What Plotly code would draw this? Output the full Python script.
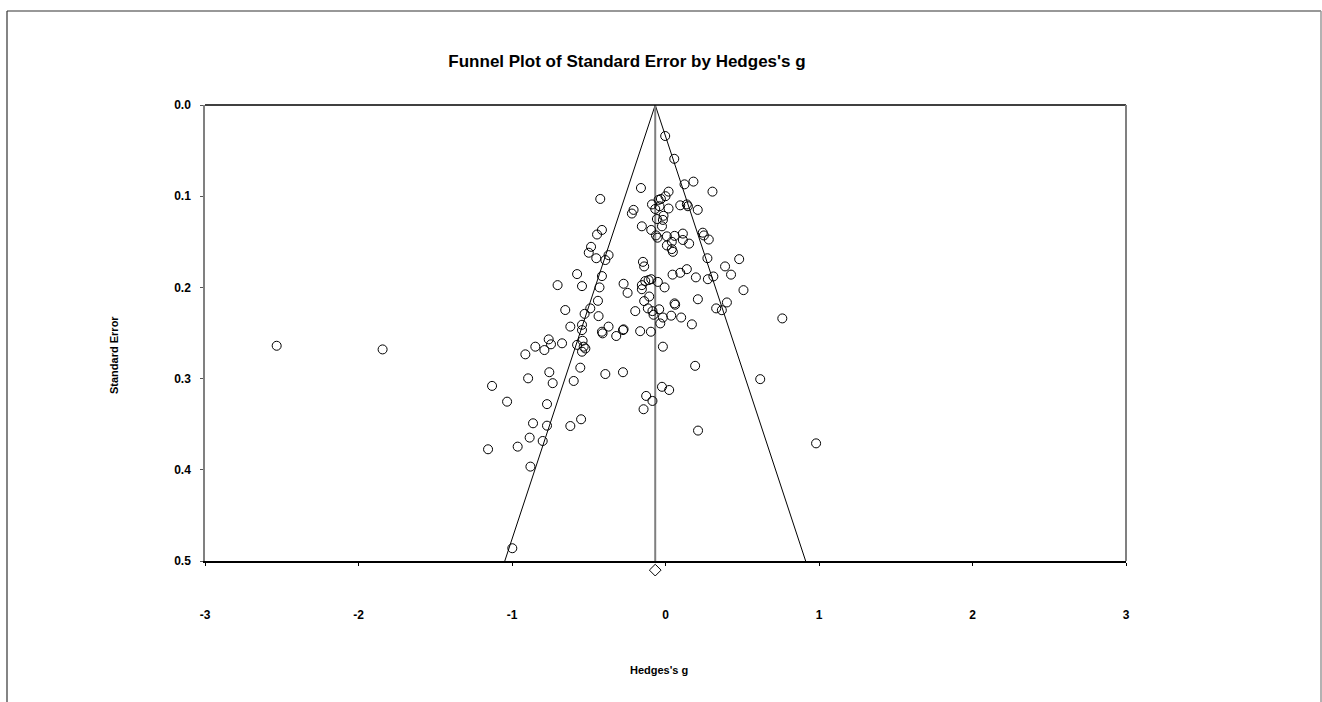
import plotly.graph_objects as go

# Study-level data
hedges_g = [
    -0.002, 0.057, 0.124, 0.182, 0.306, -0.160, -0.425, -0.208, -0.219, -0.088,
    -0.067, -0.045, -0.056, -0.154, -0.093, -0.414, -0.446, -0.062, -0.052, 0.020,
    0.000, -0.030, -0.039, 0.020, 0.096, 0.139, 0.146, 0.210, -0.013, -0.017,
    -0.023, 0.009, 0.059, 0.113, 0.243, 0.250, 0.282, 0.113, 0.154, 0.009,
    0.041, 0.041, 0.048, 0.273, 0.480, 0.388, 0.427, 0.508, 0.312, 0.276,
    0.198, 0.139, 0.096, 0.046, -0.006, -0.050, -0.093, -0.110, -0.132, -0.154,
    -0.154, -0.147, -0.139, -0.273, -0.247, -0.139, -0.106, 0.059, 0.063, 0.211,
    -0.115, -0.085, -0.078, -0.041, -0.017, -0.034, 0.037, 0.102, 0.172, -0.197,
    0.330, 0.367, 0.400, 0.761, -0.273, -0.165, -0.095, -0.017, -0.485, -0.500,
    -0.451, -0.371, -0.392, -0.576, -0.703, -0.544, -0.414, -0.430, -0.440, -0.490,
    -0.527, -0.436, -0.653, -0.620, -0.544, -0.544, -0.414, -0.410, -0.371, -0.321,
    -0.277, -0.761, -0.746, -0.848, -0.674, -0.576, -0.533, -0.913, -0.789, -0.540,
    -0.544, -0.522, -0.757, -0.895, -0.735, -0.555, -0.598, -0.392, -0.277, -1.130,
    -1.032, -0.772, -0.023, 0.024, -0.126, -0.085, -0.143, -0.863, -0.772, -0.620,
    -0.550, -0.885, -0.963, -0.800, -1.156, -0.880, -2.533, -1.843, -0.998, 0.212,
    0.981, 0.617, 0.193,
]
standard_error = [
    0.034, 0.059, 0.087, 0.084, 0.095, 0.091, 0.103, 0.115, 0.119, 0.109,
    0.114, 0.104, 0.125, 0.133, 0.137, 0.137, 0.142, 0.143, 0.1455, 0.095,
    0.100, 0.103, 0.111, 0.1135, 0.110, 0.109, 0.111, 0.115, 0.1215, 0.126,
    0.133, 0.144, 0.1435, 0.141, 0.140, 0.143, 0.1475, 0.148, 0.152, 0.154,
    0.150, 0.158, 0.161, 0.168, 0.169, 0.177, 0.186, 0.203, 0.188, 0.191,
    0.189, 0.180, 0.184, 0.186, 0.200, 0.194, 0.191, 0.192, 0.193, 0.1975,
    0.202, 0.172, 0.177, 0.196, 0.206, 0.215, 0.210, 0.2175, 0.219, 0.213,
    0.223, 0.226, 0.230, 0.224, 0.233, 0.2395, 0.231, 0.233, 0.2405, 0.226,
    0.223, 0.225, 0.2165, 0.234, 0.246, 0.248, 0.2486, 0.265, 0.1555, 0.162,
    0.168, 0.1646, 0.170, 0.1854, 0.1975, 0.1986, 0.1876, 0.200, 0.2147, 0.223,
    0.229, 0.2315, 0.2248, 0.243, 0.241, 0.2468, 0.2486, 0.2504, 0.243, 0.2533,
    0.2468, 0.257, 0.2624, 0.265, 0.2613, 0.263, 0.265, 0.2734, 0.2687, 0.2585,
    0.2705, 0.267, 0.293, 0.2997, 0.305, 0.288, 0.3026, 0.295, 0.293, 0.308,
    0.3253, 0.328, 0.309, 0.3125, 0.319, 0.3245, 0.3336, 0.349, 0.3516, 0.352,
    0.3446, 0.3647, 0.3746, 0.3684, 0.3775, 0.3965, 0.264, 0.268, 0.486, 0.357,
    0.371, 0.3006, 0.286,
]

summary_g = -0.067      # combined effect (vertical line / diamond)
summary_se_marker = 0.51
se_max = 0.5
z_crit = 1.96

x_ticks = [-3, -2, -1, 0, 1, 2, 3]
y_ticks = [0.0, 0.1, 0.2, 0.3, 0.4, 0.5]
y_tick_labels = ["0.0", "0.1", "0.2", "0.3", "0.4", "0.5"]

FONT = "Liberation Sans, Arial, sans-serif"

# page geometry (pixels)
W, H = 1322, 702
PL, PR, PT, PB = 205, 1126, 105, 600   # paper area of plotting region
AX_Y = 561                              # x-axis line position
pw, ph = PR - PL, PB - PT


def xp(px):
    return (px - PL) / pw


def yp(py):
    return (PB - py) / ph


main_dom = [yp(AX_Y), 1.0]
strip_dom = [0.0, yp(AX_Y)]
# secondary strip below the axis shares the same SE scale per pixel
se_per_px = se_max / (AX_Y - PT)
strip_range = [se_max + (PB - AX_Y) * se_per_px, se_max]

fig = go.Figure()

# Funnel limits
fig.add_trace(go.Scatter(
    x=[summary_g - z_crit * se_max, summary_g, summary_g + z_crit * se_max],
    y=[se_max, 0, se_max],
    mode="lines", line=dict(color="black", width=1),
    hoverinfo="skip", showlegend=False,
))
# Summary line
fig.add_trace(go.Scatter(
    x=[summary_g, summary_g], y=[0, se_max],
    mode="lines", line=dict(color="#7f7f7f", width=2),
    hoverinfo="skip", showlegend=False,
))
# Studies
fig.add_trace(go.Scatter(
    x=hedges_g, y=standard_error, mode="markers",
    marker=dict(symbol="circle-open", size=9, color="black", line=dict(width=1, color="black")),
    showlegend=False, cliponaxis=False,
))
# Summary diamond (in strip below the axis)
fig.add_trace(go.Scatter(
    x=[summary_g], y=[summary_se_marker], mode="markers",
    xaxis="x2", yaxis="y2",
    marker=dict(symbol="diamond-open", size=9, color="black", line=dict(width=1, color="black")),
    showlegend=False, cliponaxis=False,
))

fig.update_layout(
    width=W, height=H,
    margin=dict(l=PL, r=W - PR, t=PT, b=H - PB),
    paper_bgcolor="white", plot_bgcolor="white",
    font=dict(family=FONT, color="black"),
    title=dict(
        text="Funnel Plot of Standard Error by Hedges's g",
        x=627 / W, xanchor="center", y=1 - 61 / H, yanchor="middle",
        font=dict(family=FONT, size=17, weight="bold", color="black"),
    ),
    xaxis=dict(
        range=[-3, 3], tickvals=x_ticks, ticktext=[str(v) for v in x_ticks],
        anchor="y", showgrid=False, zeroline=False,
        showline=True, linecolor="black", linewidth=1.5,
        ticks="outside", ticklen=3, tickcolor="black", tickwidth=1,
        ticklabelstandoff=39,
        tickfont=dict(family=FONT, size=12, weight="bold", color="black"),
    ),
    yaxis=dict(
        domain=main_dom, anchor="x",
        range=[se_max, 0], tickvals=y_ticks, ticktext=y_tick_labels,
        showgrid=False, zeroline=False,
        showline=True, linecolor="#808080", linewidth=1.5,
        ticks="outside", ticklen=3, tickcolor="#555555", tickwidth=1,
        ticklabelstandoff=7,
        tickfont=dict(family=FONT, size=12, weight="bold", color="black"),
    ),
    xaxis2=dict(matches="x", anchor="y2", visible=False, showgrid=False, zeroline=False),
    yaxis2=dict(domain=strip_dom, anchor="x2", range=strip_range, visible=False,
                showgrid=False, zeroline=False),
    shapes=[
        # plot box top and right
        dict(type="line", xref="paper", yref="paper", x0=0, x1=1, y0=1, y1=1,
             line=dict(color="black", width=1.5)),
        dict(type="line", xref="paper", yref="paper", x0=1, x1=1, y0=yp(AX_Y), y1=1,
             line=dict(color="#808080", width=2)),
        # outer chart frame
        dict(type="line", xref="paper", yref="paper",
             x0=xp(7), x1=xp(1321), y0=yp(11), y1=yp(11),
             line=dict(color="#333333", width=1.2)),
        dict(type="line", xref="paper", yref="paper",
             x0=xp(7), x1=xp(7), y0=yp(11), y1=yp(720),
             line=dict(color="#333333", width=1.2)),
        dict(type="line", xref="paper", yref="paper",
             x0=xp(1321), x1=xp(1321), y0=yp(11), y1=yp(720),
             line=dict(color="#999999", width=1.5)),
    ],
    annotations=[
        dict(text="Standard Error", xref="paper", yref="paper",
             x=xp(114), y=yp(355), textangle=-90, showarrow=False,
             xanchor="center", yanchor="middle",
             font=dict(family=FONT, size=11, weight="bold", color="black")),
        dict(text="Hedges's g", xref="paper", yref="paper",
             x=xp(659), y=yp(670), showarrow=False,
             xanchor="center", yanchor="middle",
             font=dict(family=FONT, size=11, weight="bold", color="black")),
    ],
)

fig.write_html("out.html")
